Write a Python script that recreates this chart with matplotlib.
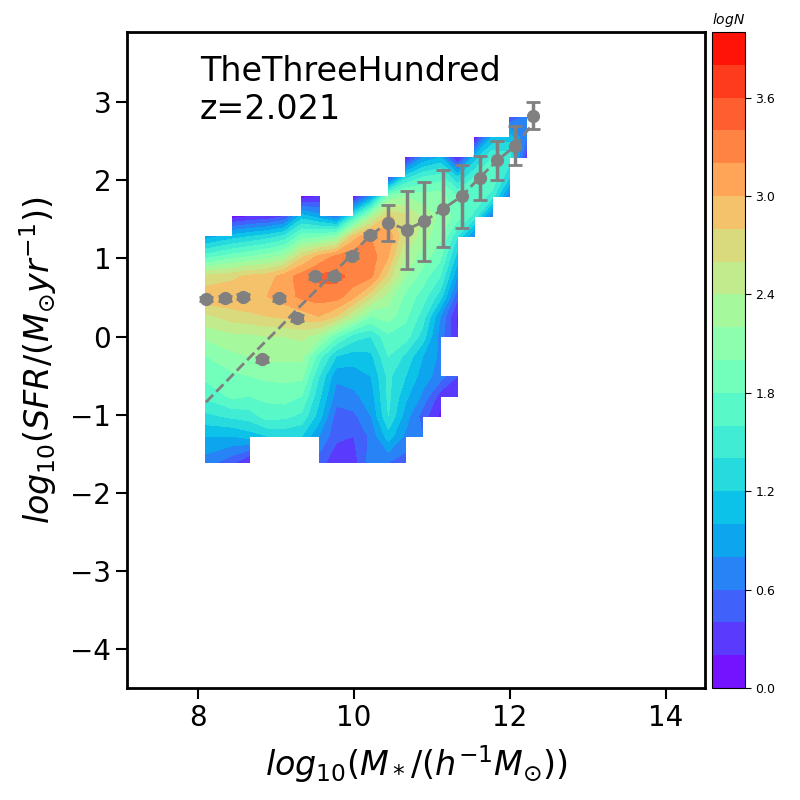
import numpy as np
import matplotlib
matplotlib.use('Agg')
import matplotlib.pyplot as plt

N = np.nan

# grid of the 2D histogram (bin positions)
mass_grid = [8.10, 8.44, 8.662, 8.884, 9.107, 9.329, 9.551, 9.773, 9.996, 10.218,
             10.44, 10.662, 10.884, 11.107, 11.329, 11.551, 11.773, 11.996, 12.218]
sfr_grid = [-1.615, -1.274, -1.018, -0.763, -0.507, -0.251, 0.004, 0.260, 0.515,
            0.771, 1.026, 1.282, 1.538, 1.795, 2.042, 2.295, 2.555, 2.811]

# logN on the grid, one row per sfr_grid value
logN = [
    [0.7, 0.45, 0.15, N, N, N, 0.5, 0.25, 0.3, 0.7, 0.6, 0.5, N, N, N, N, N, N, N],
    [1.0, 1.0, 1.1, 1.2, 1.25, 1.2, 0.8, 0.45, 0.4, 0.65, 1.1, 0.75, 0.6, N, N, N, N, N, N],
    [1.35, 1.45, 1.5, 1.7, 1.65, 1.55, 1.1, 0.5, 0.55, 0.8, 1.4, 0.9, 0.5, 0.15, N, N, N, N, N],
    [1.65, 1.85, 1.8, 1.85, 1.9, 1.8, 1.25, 0.7, 0.75, 0.9, 1.45, 1.05, 0.75, 0.3, 0.2, N, N, N, N],
    [1.85, 1.95, 2.0, 2.05, 2.05, 2.05, 1.4, 0.85, 0.9, 1.0, 1.45, 1.2, 0.9, 0.7, 0.4, N, N, N, N],
    [2.0, 2.15, 2.2, 2.25, 2.25, 2.25, 1.7, 1.2, 1.1, 1.15, 1.6, 1.35, 1.0, 0.75, N, N, N, N, N],
    [2.25, 2.35, 2.35, 2.4, 2.4, 2.45, 2.3, 1.85, 1.5, 1.4, 1.75, 1.7, 1.3, 0.7, 0.2, N, N, N, N],
    [2.55, 2.7, 2.75, 2.8, 2.85, 2.9, 3.0, 2.8, 2.4, 2.0, 2.1, 1.85, 1.5, 0.8, 0.15, N, N, N, N],
    [2.95, 2.97, 2.98, 3.0, 3.1, 3.25, 3.3, 3.3, 3.05, 2.65, 2.3, 1.95, 1.7, 1.3, 0.45, N, N, N, N],
    [2.65, 2.75, 2.85, 2.9, 3.1, 3.3, 3.45, 3.45, 3.35, 3.25, 2.7, 2.2, 1.9, 1.6, 0.8, N, N, N, N],
    [1.7, 1.9, 2.0, 2.1, 2.25, 2.75, 3.05, 3.25, 3.35, 3.3, 3.0, 2.35, 2.1, 1.85, 1.1, N, N, N, N],
    [0.9, 1.1, 1.2, 1.3, 1.45, 1.9, 1.95, 2.1, 2.9, 3.2, 3.15, 2.6, 2.3, 2.05, 1.4, 0.7, N, N, N],
    [N, 0.1, 0.2, 0.25, 0.4, 1.1, 0.9, 0.6, 1.5, 2.3, 2.85, 2.65, 2.35, 2.15, 1.9, 1.5, 0.6, N, N],
    [N, N, N, N, N, 0.1, 0.2, N, 0.1, 0.8, 2.0, 2.2, 2.1, 2.1, 1.8, 1.8, 1.5, 0.6, N],
    [N, N, N, N, N, N, N, N, N, N, 0.3, 1.3, 1.6, 1.7, 1.2, 1.6, 1.8, 1.2, N],
    [N, N, N, N, N, N, N, N, N, N, N, 0.1, 0.8, 1.0, 0.1, 1.1, 1.6, 1.5, 0.2],
    [N, N, N, N, N, N, N, N, N, N, N, N, N, N, N, 0.1, 1.0, 1.1, 0.6],
    [N, N, N, N, N, N, N, N, N, N, N, N, N, N, N, N, N, 0.4, 0.7],
]

# binned mean relation
mass_bins = [8.10, 8.346, 8.58, 8.817, 9.04, 9.27, 9.50, 9.744, 9.98, 10.21,
             10.44, 10.675, 10.90, 11.145, 11.38, 11.61, 11.84, 12.07, 12.29]
sfr_mean = [0.48, 0.49, 0.51, -0.29, 0.49, 0.24, 0.77, 0.77, 1.035, 1.30,
            1.457, 1.37, 1.474, 1.637, 1.795, 2.035, 2.256, 2.445, 2.83]
sfr_err = [0.03, 0.03, 0.03, 0.03, 0.03, 0.04, 0.03, 0.03, 0.03, 0.03,
           0.23, 0.50, 0.50, 0.49, 0.40, 0.28, 0.25, 0.25, 0.17]
# dashed relation
sfr_line = [-0.84, -0.59, -0.35, -0.11, 0.11, 0.35, 0.58, 0.82, 1.06, 1.30,
            1.457, 1.37, 1.474, 1.637, 1.795, 2.035, 2.256, 2.445, 2.72]

levels = np.arange(0, 4.01, 0.2)
cbar_ticks = [0.0, 0.6, 1.2, 1.8, 2.4, 3.0, 3.6]

fig = plt.figure(figsize=(8, 8), dpi=100)
ax = fig.add_axes([0.159, 0.14, 0.722, 0.82])
cax = fig.add_axes([0.89, 0.14, 0.041, 0.82])

Z = np.ma.masked_invalid(np.array(logN))
cs = ax.contourf(mass_grid, sfr_grid, Z, levels=levels, cmap='rainbow',
                 corner_mask=False)

ax.plot(mass_bins, sfr_line, '--', color='gray', lw=2, zorder=3)
ax.errorbar(mass_bins, sfr_mean, yerr=sfr_err, fmt='o', color='gray', ms=8.5,
            elinewidth=2.5, capsize=5, capthick=2, zorder=4)

ax.text(0.126, 0.965, 'TheThreeHundred\nz=2.021', transform=ax.transAxes,
        fontsize=24, va='top', ha='left')

ax.set_xlim(7.09, 14.5)
ax.set_ylim(-4.5, 3.9)
ax.set_xticks([8, 10, 12, 14])
ax.set_yticks([-4, -3, -2, -1, 0, 1, 2, 3])
ax.tick_params(labelsize=20, length=8, width=1.5)
for s in ax.spines.values():
    s.set_linewidth(2)

ax.set_xlabel(r'$log_{10}(M_*/(h^{-1}M_{\odot}))$', fontsize=24, labelpad=8)
ax.set_ylabel(r'$log_{10}(SFR/(M_{\odot}yr^{-1}))$', fontsize=24, labelpad=8)

cbar = fig.colorbar(cs, cax=cax, ticks=cbar_ticks)
cbar.ax.tick_params(labelsize=9, length=4)
cbar.ax.set_yticklabels(['%.1f' % t for t in cbar_ticks])
cbar.ax.set_title(r'$logN$', fontsize=10)

plt.savefig('out.png', dpi=100)
